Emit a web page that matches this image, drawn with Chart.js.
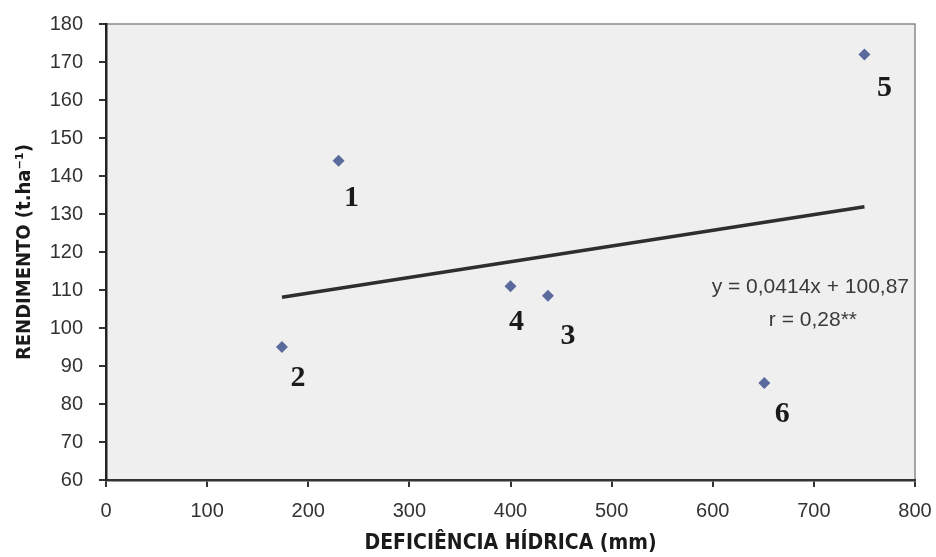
<!DOCTYPE html>
<html>
<head>
<meta charset="utf-8">
<script src="https://cdn.jsdelivr.net/npm/chart.js@4.4.1/dist/chart.umd.min.js"></script>
<style>
  html, body { margin: 0; padding: 0; background: #fff; }
  #wrap { width: 936px; height: 557px; }
</style>
</head>
<body>
<div id="wrap"><canvas id="grafico"></canvas></div>
<script>
// deficiência hídrica (mm) x rendimento (t/ha) por local
var pontos = ['1', '2', '3', '4', '5', '6'];
var deficiencia = [230, 174, 437, 400, 750, 651];
var rendimento = [144, 95, 108.5, 111, 172, 85.5];
// reta de regressão: y = 0,0414x + 100,87
var coefA = 0.0414;
var coefB = 100.87;
var textoEquacao = 'y = 0,0414x + 100,87';
var textoR = 'r = 0,28**';

// deslocamento (px) do número em relação ao marcador
var deslocRotulo = [[13, 37], [16, 31], [20, 41], [6, 36], [20, 34], [18, 31]];

var dispersao = deficiencia.map(function (x, i) { return { x: x, y: rendimento[i] }; });
var xMin = Math.min.apply(null, deficiencia);
var xMax = Math.max.apply(null, deficiencia);
var reta = [
    { x: xMin, y: coefA * xMin + coefB },
    { x: xMax, y: coefA * xMax + coefB }
];

var fonteEixo = "'Liberation Sans', Arial, sans-serif";
var fonteTitulo = "'DejaVu Sans Condensed', 'Liberation Sans Narrow', Arial, sans-serif";

var extras = {
    id: 'extras',
    beforeDraw: function (chart) {
        var a = chart.chartArea, ctx = chart.ctx;
        ctx.save();
        ctx.fillStyle = '#efefef';
        ctx.fillRect(a.left, a.top, a.right - a.left, a.bottom - a.top);
        // borda de cima e da direita
        ctx.strokeStyle = '#8a8a8a';
        ctx.lineWidth = 1.5;
        ctx.beginPath();
        ctx.moveTo(a.left, a.top);
        ctx.lineTo(a.right, a.top);
        ctx.lineTo(a.right, a.bottom);
        ctx.stroke();
        ctx.restore();
    },
    afterDatasetsDraw: function (chart) {
        var a = chart.chartArea, ctx = chart.ctx;
        var meta = chart.getDatasetMeta(1);
        ctx.save();
        // números dos locais
        ctx.fillStyle = '#1a1a1a';
        ctx.font = "bold 30px 'Liberation Serif', 'DejaVu Serif', serif";
        ctx.textAlign = 'center';
        ctx.textBaseline = 'middle';
        meta.data.forEach(function (p, i) {
            ctx.fillText(pontos[i], p.x + deslocRotulo[i][0], p.y + deslocRotulo[i][1]);
        });
        // equação e coeficiente
        ctx.fillStyle = '#3a3a3a';
        ctx.font = '21px ' + fonteEixo;
        ctx.textAlign = 'right';
        ctx.fillText(textoEquacao, a.right - 6, a.top + 263);
        ctx.fillText(textoR, a.right - 58, a.top + 296);
        ctx.restore();
    }
};

new Chart(document.getElementById('grafico'), {
    type: 'scatter',
    data: {
        datasets: [{
            type: 'line',
            label: 'Linear',
            data: reta,
            borderColor: '#2e2e2e',
            borderWidth: 3.5,
            pointRadius: 0,
            fill: false
        }, {
            label: 'Rendimento',
            data: dispersao,
            pointStyle: 'rectRot',
            pointRadius: 6,
            backgroundColor: '#5b6a9c',
            borderColor: '#5b6a9c',
            borderWidth: 0
        }]
    },
    options: {
        responsive: true,
        maintainAspectRatio: false,
        animation: false,
        layout: { padding: { top: 24, right: 21, left: 0, bottom: 0 } },
        plugins: {
            legend: { display: false },
            tooltip: { enabled: false }
        },
        scales: {
            x: {
                type: 'linear',
                min: 0,
                max: 800,
                afterFit: function (s) {
                    s.height = 77;
                    s.paddingLeft = 0;
                    s.paddingRight = 0;
                },
                ticks: { stepSize: 100, color: '#333', padding: 12, font: { family: fonteEixo, size: 20 } },
                grid: { drawOnChartArea: false, tickLength: 7, color: '#333', lineWidth: 2 },
                border: { color: '#333', width: 2.5 },
                title: {
                    display: true,
                    text: 'DEFICIÊNCIA HÍDRICA (mm)',
                    color: '#1a1a1a',
                    padding: { top: 0, bottom: 1 },
                    font: { family: fonteTitulo, size: 21, weight: 'bold' }
                }
            },
            y: {
                min: 60,
                max: 180,
                afterFit: function (s) {
                    s.width = 106;
                    s.paddingTop = 0;
                    s.paddingBottom = 0;
                },
                ticks: { stepSize: 10, color: '#333', padding: 16, font: { family: fonteEixo, size: 20 } },
                grid: { drawOnChartArea: false, tickLength: 7, color: '#333', lineWidth: 2 },
                border: { color: '#222', width: 2.5 },
                title: {
                    display: true,
                    text: 'RENDIMENTO (t.ha⁻¹)',
                    color: '#1a1a1a',
                    padding: { top: 13, bottom: 0 },
                    font: { family: fonteTitulo, size: 20, weight: 'bold' }
                }
            }
        }
    },
    plugins: [extras]
});
</script>
</body>
</html>
